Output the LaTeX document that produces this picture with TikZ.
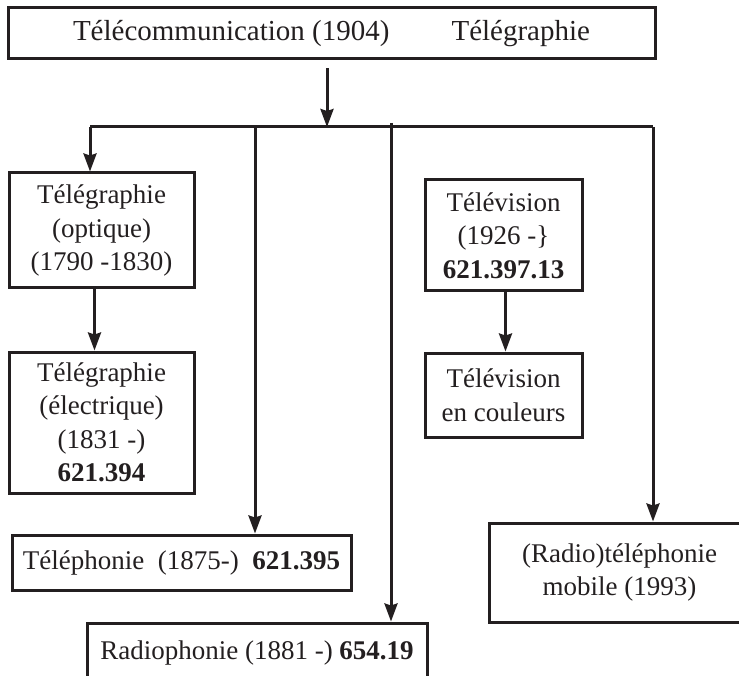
\documentclass[tikz,border=0pt]{standalone}
\usepackage{fontspec}
\setmainfont{Liberation Serif}
\usetikzlibrary{arrows.meta}
\definecolor{ink}{RGB}{35,31,32}
\begin{document}
\begin{tikzpicture}[x=1pt,y=-1pt,
  every node/.style={text=ink},
  box/.style={draw=ink, line width=3pt, inner sep=0pt, align=center,
    font=\fontsize{27}{33.5}\selectfont},
  link/.style={draw=ink, line width=3pt},
  arr/.style={link, -{Stealth[length=18pt,width=13pt,inset=2pt]}}]
\useasboundingbox (0,0) rectangle (739,676);

% title box
\node[box, minimum width=647pt, minimum height=51pt,
  font=\fontsize{29}{34}\selectfont] (top) at (331.5,33.5)
  {Télécommunication (1904)\hspace{62pt}Télégraphie};

% left column
\node[box, minimum width=185pt, minimum height=115pt] (opt) at (101.5,230.5)
  {Télégraphie\\(optique)\\(1790 -1830)};
\node[box, minimum width=185pt, minimum height=141pt] (elec) at (101.5,422.5)
  {Télégraphie\\(électrique)\\(1831 -)\\\textbf{621.394}};

% television column
\node[box, minimum width=157pt, minimum height=111pt] (tv) at (503.5,235.5)
  {Télévision\\(1926 -\}\\\textbf{621.397.13}};
\node[box, minimum width=157pt, minimum height=84pt] (tvc) at (503.5,395)
  {Télévision\\en couleurs};

% lower row
\node[box, minimum width=339pt, minimum height=55pt] (tel) at (181.5,562.5)
  {Téléphonie~ (1875-)~ \textbf{621.395}};
\node[box, minimum width=340pt, minimum height=60pt] (radio) at (257,653)
  {Radiophonie (1881 -) \textbf{654.19}};
\node[box, minimum width=261pt, minimum height=99pt] (mob) at (619.5,572.5)
  {(Radio)téléphonie\\mobile (1993)};

% distribution bar
\coordinate (hub) at (327,127);
\coordinate (j1) at (90,127);
\coordinate (j2) at (255,127);
\coordinate (j3) at (391,123);
\coordinate (j4) at (653,127);
\draw[arr, shorten <=8pt] (top.south -| hub) -- (hub);
\draw[link] (j1) -- (j4);
\draw[arr] (j1) -- (j1 |- opt.north);
\draw[arr] (j2) -- (j2 |- tel.north);
\draw[arr] (j3) -- (j3 |- radio.north);
\draw[arr] (j4) -- (j4 |- mob.north);

% descent arrows
\draw[arr] ([xshift=-7pt]opt.south) -- ([xshift=-7pt]elec.north);
\draw[arr] ([xshift=2pt]tv.south) -- ([xshift=2pt]tvc.north);
\end{tikzpicture}
\end{document}
